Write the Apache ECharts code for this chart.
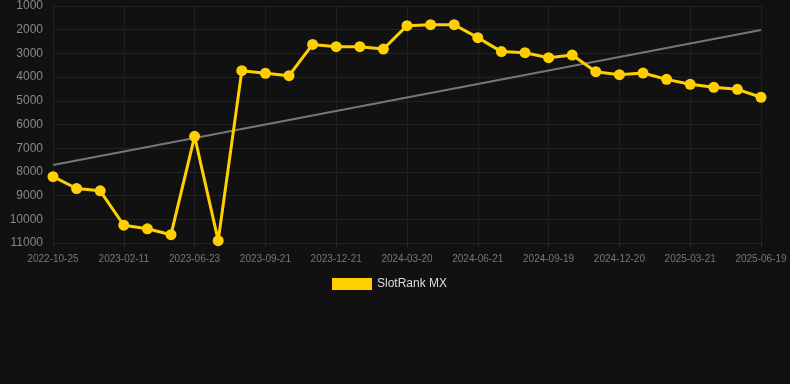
<!DOCTYPE html>
<html>
<head>
<meta charset="utf-8">
<script src="https://cdn.jsdelivr.net/npm/echarts@6/dist/echarts.min.js"></script>
<style>
html,body{margin:0;padding:0;background:#111111;}
#c{width:790px;height:384px;}
</style>
</head>
<body>
<div id="c"></div>
<script>
const categories = ["2022-10-25","2022-11-30","2023-01-05","2023-02-11","2023-03-25","2023-05-08","2023-06-23","2023-07-23","2023-08-22","2023-09-21","2023-10-21","2023-11-21","2023-12-21","2024-01-20","2024-02-19","2024-03-20","2024-04-20","2024-05-21","2024-06-21","2024-07-21","2024-08-20","2024-09-19","2024-10-20","2024-11-19","2024-12-20","2025-01-19","2025-02-19","2025-03-21","2025-04-20","2025-05-20","2025-06-19"];
const rankValues = [8200,8700,8800,10250,10400,10650,6500,10900,3730,3840,3940,2620,2715,2715,2815,1830,1790,1790,2335,2925,2970,3180,3070,3770,3900,3830,4095,4305,4430,4515,4850];
const trendEnds = [7710, 2010];
const yTicks = {min:1000, max:11000, interval:1000};
const seriesName = "SlotRank MX";

const trendData = categories.map((c,i)=> (i===0 ? trendEnds[0] : (i===categories.length-1 ? trendEnds[1] : null)));

const chart = echarts.init(document.getElementById('c'), null, {renderer:'canvas'});
chart.setOption({
  backgroundColor:'#111111',
  animation:false,
  grid:{left:53, right:29, top:6, bottom:141, containLabel:false},
  legend:{
    data:[seriesName],
    top:278, left:332, padding:0,
    itemWidth:40, itemHeight:12, itemGap:10,
    icon:'rect',
    textStyle:{color:'#dddddd', fontSize:12, fontFamily:'Arial, Liberation Sans, sans-serif'}
  },
  xAxis:{
    type:'category', data:categories, boundaryGap:false,
    axisLine:{show:false},
    axisTick:{show:true, interval:2, length:4, lineStyle:{color:'#2a2a2a'}},
    axisLabel:{interval:2, color:'#777', fontSize:10, margin:11, fontFamily:'Arial, Liberation Sans, sans-serif'},
    splitLine:{show:true, interval:2, lineStyle:{color:'#1f1f1f', width:1}}
  },
  yAxis:{
    type:'value', inverse:true, min:yTicks.min, max:yTicks.max, interval:yTicks.interval,
    axisLine:{show:false}, axisTick:{show:false},
    axisLabel:{color:'#888', fontSize:12, margin:10, fontFamily:'Arial, Liberation Sans, sans-serif',
      formatter:(v)=>String(v)},
    splitLine:{lineStyle:{color:'#222', width:1}}
  },
  series:[
    {
      name:seriesName, type:'line', data:rankValues,
      symbol:'circle', symbolSize:11,
      lineStyle:{color:'#FFD000', width:3},
      itemStyle:{color:'#FFD000'},
      z:3
    },
    {
      name:'trend', type:'line', data:trendData, connectNulls:true,
      symbol:'none', lineStyle:{color:'#777', width:2},
      itemStyle:{color:'#777'},
      z:2, silent:true
    }
  ]
});
</script>
</body>
</html>
